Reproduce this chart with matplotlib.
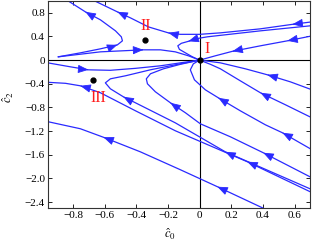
import numpy as np
import matplotlib
matplotlib.use('Agg')
import matplotlib.pyplot as plt

plt.rcParams['font.family'] = ['Liberation Serif', 'DejaVu Serif']
plt.rcParams['mathtext.fontset'] = 'stix'

# Trajectories of the phase portrait, each listed in the direction of flow
# (c0, c2) points
traj_top_exit = [(0.71, 0.647), (0.586, 0.605), (0.384, 0.529), (0.131, 0.461),
                 (0.0, 0.436), (-0.122, 0.436), (-0.198, 0.461), (-0.324, 0.562),
                 (-0.438, 0.715), (-0.520, 0.816), (-0.678, 1.02)]
traj_top_loop = [(0.71, 0.583), (0.384, 0.495), (0.131, 0.419), (0.049, 0.394),
                 (-0.027, 0.360), (-0.071, 0.318), (-0.116, 0.284), (-0.138, 0.242),
                 (-0.128, 0.182), (-0.090, 0.123), (-0.046, 0.056), (0.0, 0.0)]
traj_top_right = [(0.71, 0.410), (0.554, 0.326), (0.384, 0.242), (0.207, 0.149),
                  (0.099, 0.073), (0.0, 0.0)]
traj_ii_upper = [(-0.893, 0.056), (-0.754, 0.123), (-0.627, 0.191), (-0.520, 0.258),
                 (-0.488, 0.326), (-0.495, 0.394), (-0.532, 0.495), (-0.627, 0.681),
                 (-0.722, 0.816), (-0.842, 1.02)]
traj_ii_lower = [(-0.893, 0.056), (-0.627, 0.140), (-0.356, 0.174), (-0.248, 0.174),
                 (-0.154, 0.140), (-0.071, 0.073), (0.0, 0.0)]
traj_left_zero = [(-0.96, -0.046), (-0.817, -0.113), (-0.703, -0.164), (-0.565, -0.172),
                  (-0.406, -0.139), (-0.248, -0.096), (-0.122, -0.046), (0.0, 0.0)]
traj_iii_turn = [(0.71, -2.19), (0.162, -1.55), (-0.154, -1.06), (-0.406, -0.721),
                 (-0.482, -0.62), (-0.564, -0.485), (-0.596, -0.384), (-0.564, -0.316),
                 (-0.469, -0.265), (-0.312, -0.164), (-0.154, -0.079), (0.0, 0.0)]
traj_mid_turn = [(0.71, -1.99), (0.402, -1.566), (0.194, -1.296), (0.004, -1.076),
                 (-0.09, -0.89), (-0.185, -0.721), (-0.28, -0.535), (-0.33, -0.40),
                 (-0.337, -0.316), (-0.311, -0.231), (-0.229, -0.147), (-0.122, -0.071),
                 (0.0, 0.0)]
traj_left_exit = [(0.71, -2.24), (0.301, -1.718), (-0.154, -1.194), (-0.406, -0.856),
                  (-0.627, -0.552), (-0.754, -0.434), (-0.848, -0.392), (-0.96, -0.375)]
traj_right_turn = [(0.71, -1.515), (0.523, -1.228), (0.415, -1.093), (0.257, -0.857),
                   (0.118, -0.637), (0.036, -0.502), (-0.033, -0.333), (-0.059, -0.164),
                   (-0.040, -0.0625), (0.0, 0.0)]
traj_right_a = [(0.71, -0.502), (0.573, -0.367), (0.428, -0.248), (0.289, -0.147),
                (0.131, -0.046), (0.0, 0.0)]
traj_right_b = [(0.71, -0.976), (0.542, -0.755), (0.384, -0.552), (0.257, -0.35),
                (0.131, -0.147), (0.068, -0.071), (0.0, 0.0)]
traj_bottom = [(0.415, -2.52), (0.112, -2.14), (-0.122, -1.853), (-0.375, -1.55),
               (-0.608, -1.304), (-0.754, -1.16), (-0.96, -1.04)]

# vertex indices where an arrow head sits
trajectories = [
    (traj_top_exit, [1, 6, 9]),
    (traj_top_loop, [5]),
    (traj_top_right, [1, 3]),
    (traj_ii_upper, [3, 8]),
    (traj_ii_lower, [2]),
    (traj_left_zero, [2]),
    (traj_iii_turn, [1, 4]),
    (traj_mid_turn, [1, 5]),
    (traj_left_exit, [1, 5]),
    (traj_right_turn, [1, 4]),
    (traj_right_a, [2]),
    (traj_right_b, [2]),
    (traj_bottom, [1, 4]),
]

# fixed points and their labels
fixed_c0 = [0.0, -0.343, -0.673]
fixed_c2 = [0.0, 0.343, -0.333]
fixed_names = ['I', 'II', 'III']
name_c0 = [0.05, -0.343, -0.64]
name_c2 = [0.19, 0.58, -0.64]

x_ticks = [-0.8, -0.6, -0.4, -0.2, 0, 0.2, 0.4, 0.6]
y_ticks = [-2.4, -2.0, -1.6, -1.2, -0.8, -0.4, 0, 0.4, 0.8]

LINE_COLOR = '#2a2aff'

fig = plt.figure(figsize=(3.12, 2.43), dpi=100)
ax = fig.add_axes([0.153, 0.144, 0.842, 0.852])

ax.axhline(0, color='black', lw=0.8, zorder=1)
ax.axvline(0, color='black', lw=0.8, zorder=1)

for path, arrows in trajectories:
    pts = np.array(path)
    ax.plot(pts[:, 0], pts[:, 1], color=LINE_COLOR, lw=0.9, zorder=2)
    for i in arrows:
        d = pts[i + 1] - pts[i - 1]
        ax.annotate('', xy=pts[i], xytext=pts[i] - 0.02 * d,
                    arrowprops=dict(arrowstyle='-|>,head_length=0.8,head_width=0.32',
                                    color=LINE_COLOR, lw=0.6, shrinkA=0, shrinkB=0,
                                    mutation_scale=8),
                    zorder=3)

ax.plot(fixed_c0, fixed_c2, 'o', color='black', ms=3.5, zorder=4)
for cx, cy, name in zip(name_c0, name_c2, fixed_names):
    ax.text(cx, cy, name, color='#ff1a1a', fontsize=11.5, ha='center', va='center',
            zorder=5)

ax.set_xlim(-0.96, 0.7)
ax.set_ylim(-2.5, 1.0)
ax.set_xticks(x_ticks)
ax.set_yticks(y_ticks)
ax.set_xticklabels(['0' if v == 0 else ('%.1f' % v).replace('-', '\u2212') for v in x_ticks])
ax.set_yticklabels(['0' if v == 0 else ('%.1f' % v).replace('-', '\u2212') for v in y_ticks])
ax.tick_params(direction='in', length=3, width=0.6, labelsize=8, top=True, right=True,
               pad=2)
for s in ax.spines.values():
    s.set_linewidth(0.8)
    s.set_color('#333333')

ax.set_xlabel(r'$\hat{c}_0$', fontsize=9)
ax.set_ylabel(r'$\hat{c}_2$', fontsize=9)
ax.xaxis.set_label_coords(0.466, -0.09)
ax.yaxis.set_label_coords(-0.12, 0.536)

fig.savefig('out.png', dpi=100)
